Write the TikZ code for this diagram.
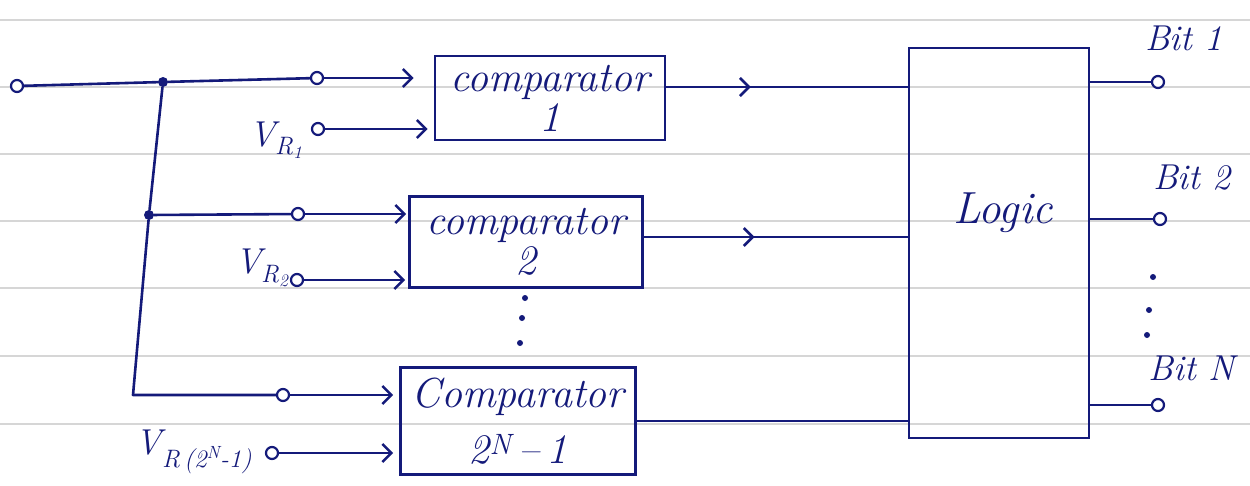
\documentclass[tikz,border=0pt]{standalone}
\usepackage{fontspec}
\usetikzlibrary{arrows.meta,decorations.markings}
\definecolor{ink}{RGB}{20,26,122}
\definecolor{ruling}{RGB}{214,214,214}

\begin{document}
\begin{tikzpicture}[x=1pt,y=-1pt,
  wire/.style={draw=ink,line width=2.6pt,line cap=round,line join=round},
  arr/.style={wire,-{Straight Barb[length=9pt,width=18pt]}},
  term/.style={circle,draw=ink,line width=2.2pt,fill=white,inner sep=0pt,minimum size=12pt},
  jdot/.style={circle,fill=ink,inner sep=0pt,minimum size=10pt},
  tdot/.style={circle,fill=ink,inner sep=0pt,minimum size=6pt},
  block/.style={draw=ink,line width=2.6pt,inner sep=0pt,align=center,text=ink,
    font=\itshape\fontsize{42}{40}\selectfont},
  lbl/.style={text=ink,inner sep=0pt,font=\itshape\fontsize{36}{36}\selectfont},
  midarr/.style={postaction={decorate},decoration={markings,
    mark=at position #1 with {\arrow{Straight Barb[length=9pt,width=18pt]}}}}
]
\useasboundingbox (0,0) rectangle (1250,485);

% ruled paper
\foreach \yy in {20,87,154,221,288,356,424}
  \draw[ruling,line width=1.3pt] (0,\yy) -- (1250,\yy);

% comparators and logic block
\node[block,minimum width=230pt,minimum height=84pt] (c1) at (550,98) {comparator\\1};
\node[block,minimum width=233pt,minimum height=91pt] (c2) at (526,242) {comparator\\2};
\node[block,minimum width=235pt,minimum height=107pt] (c3) at (518,421)
  {Comparator\\[16pt]2\textsuperscript{N}\,--\,1};
\node[block,minimum width=180pt,minimum height=390pt] (logic) at (999,243) {};
\node[lbl,font=\itshape\fontsize{45}{45}\selectfont] (logictext) at (1003,213) {Logic};

% input terminals and junctions
\node[term] (in) at (17,86) {};
\node[jdot] (j1) at (163,82) {};
\node[term] (a1) at (317,78) {};
\node[term] (r1) at (318,129) {};
\node[jdot] (j2) at (149,215) {};
\node[term] (a2) at (298,214) {};
\node[term] (r2) at (297,280) {};
\coordinate (k3) at (133,395);
\node[term] (a3) at (283,395) {};
\node[term] (r3) at (272,453) {};

% reference voltage labels
\node[lbl] (v1) at (276,140) {V\textsubscript{R\textsubscript{1}}};
\node[lbl] (v2) at (262,268) {V\textsubscript{R\textsubscript{2}}};
\node[lbl] (v3) at (194,452) {V\textsubscript{R\,(2\textsuperscript{N}-1)}};

% input wiring
\draw[wire] (in) -- (j1) -- (a1);
\draw[wire] (j1) -- (j2) -- (k3) -- (a3);
\draw[wire] (j2) -- (a2);
\draw[arr,shorten >=20pt] (a1) -- (a1 -| c1.west);
\draw[arr,shorten >=6pt] (r1) -- (r1 -| c1.west);
\draw[arr,shorten >=2pt] (a2) -- (a2 -| c2.west);
\draw[arr,shorten >=3pt] (r2) -- (r2 -| c2.west);
\draw[arr,shorten >=6pt] (a3) -- (a3 -| c3.west);
\draw[arr,shorten >=6pt] (r3) -- (r3 -| c3.west);

% comparator outputs into the logic block
\draw[wire,midarr=0.35] ([yshift=11pt]c1.east) -- ([yshift=11pt]c1.east -| logic.west);
\draw[wire,midarr=0.42] ([yshift=5pt]c2.east) -- ([yshift=5pt]c2.east -| logic.west);
\draw[wire] (c3.east) -- (c3.east -| logic.west);

% omitted comparators
\node[tdot] (d1) at (525,298) {};
\node[tdot] (d2) at (522,318) {};
\node[tdot] (d3) at (520,343) {};

% output bits
\node[term] (b1) at (1158,82) {};
\node[term] (b2) at (1160,219) {};
\node[term] (bn) at (1158,405) {};
\draw[wire] (b1 -| logic.east) -- (b1);
\draw[wire] (b2 -| logic.east) -- (b2);
\draw[wire] (bn -| logic.east) -- (bn);
\node[lbl] (l1) at (1184,38) {Bit 1};
\node[lbl] (l2) at (1192,178) {Bit 2};
\node[lbl] (ln) at (1192,368) {Bit N};
\node[tdot] (e1) at (1153,277) {};
\node[tdot] (e2) at (1149,310) {};
\node[tdot] (e3) at (1147,335) {};
\end{tikzpicture}
\end{document}
